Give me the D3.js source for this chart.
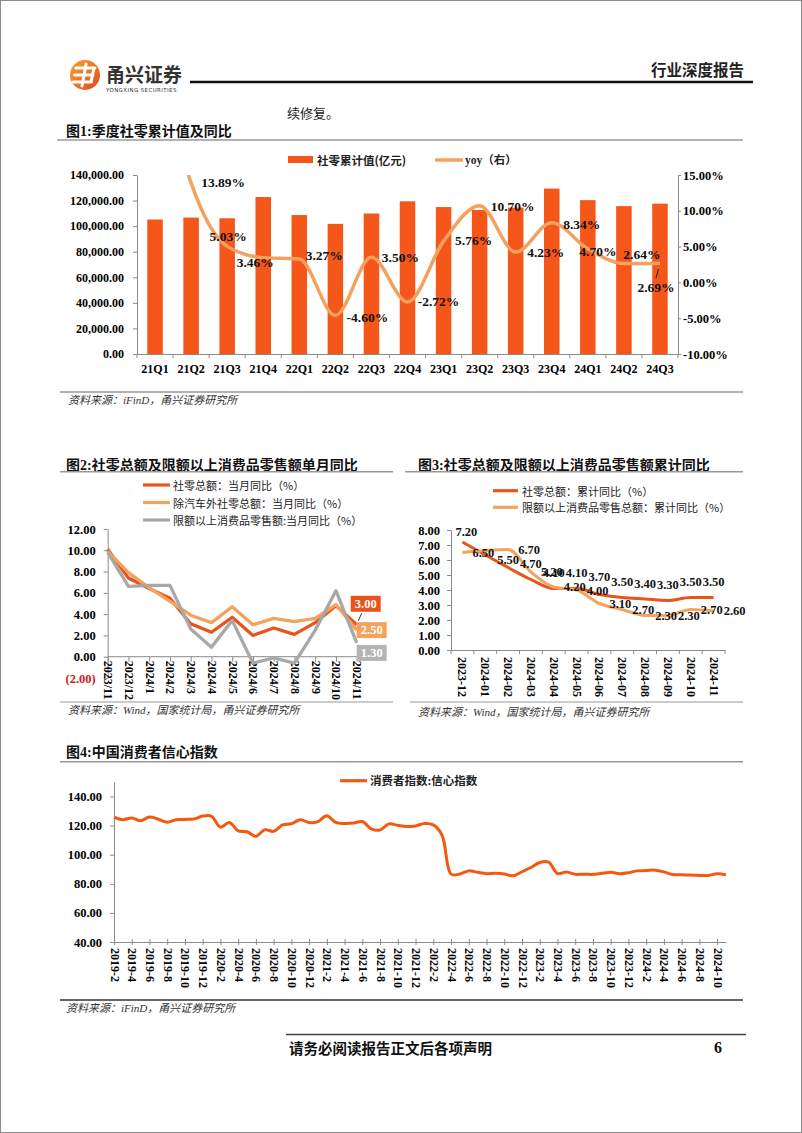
<!DOCTYPE html>
<html><head><meta charset="utf-8">
<script src="https://cdn.jsdelivr.net/npm/d3@7"></script>
<style>body{margin:0;background:#fff} svg{display:block}</style>
</head><body>
<svg id="page" width="802" height="1133"></svg>
<script>
// ---------------- DATA ----------------
// Figure 1
const quarters = ["21Q1","21Q2","21Q3","21Q4","22Q1","22Q2","22Q3","22Q4","23Q1","23Q2","23Q3","23Q4","24Q1","24Q2","24Q3"];
const retailQuarterTotal = [105221,106683,106153,122766,108659,101773,109873,119428,114922,112666,114519,129388,120327,115642,117595];
const retailQuarterYoy = [33.9,13.89,5.03,3.46,3.27,-4.60,3.50,-2.72,5.76,10.70,4.23,8.34,4.70,2.64,2.69];
const leftTicks = [0,20000,40000,60000,80000,100000,120000,140000];
const rightTicks = [-10,-5,0,5,10,15];

// Figure 2
const months2 = ["2023/11","2023/12","2024/1","2024/2","2024/3","2024/4","2024/5","2024/6","2024/7","2024/8","2024/9","2024/10","2024/11"];
const retailMonthYoy = [10.1,7.4,6.4,5.5,3.1,2.3,3.7,2.0,2.7,2.1,3.2,4.8,3.0];
const retailExAutoMonthYoy = [9.9,7.9,6.5,5.2,3.9,3.2,4.7,3.0,3.6,3.3,3.6,4.9,2.5];
const aboveQuotaMonthYoy = [9.8,6.6,6.7,6.7,2.6,0.9,3.4,-0.6,-0.1,-0.6,2.5,6.2,1.3];
const fig2Ticks = [-2,0,2,4,6,8,10,12];

// Figure 3
const months3 = ["2023-12","2024-01","2024-02","2024-03","2024-04","2024-05","2024-06","2024-07","2024-08","2024-09","2024-10","2024-11"];
const retailCumYoy = [7.2,null,5.5,4.7,4.1,4.1,3.7,3.5,3.4,3.3,3.5,3.5];
const aboveQuotaCumYoy = [6.5,null,6.7,5.2,4.2,4.0,3.1,2.7,2.3,2.3,2.7,2.6];
const fig3Ticks = [0,1,2,3,4,5,6,7,8];

// Figure 4
const cciValues = [
  125.9,124.1,125.3,123.4,125.9,124.4,122.4,124.1,124.3,124.6,126.6,
  126.4,118.9,122.2,116.4,115.8,112.6,117.2,116.1,120.5,121.3,124.0,122.1,
  122.8,126.8,122.2,121.5,121.8,122.8,117.8,117.0,121.2,120.2,119.4,119.8,
  121.5,120.5,113.2,86.7,86.8,88.9,87.9,87.0,87.2,86.8,85.5,88.3,
  91.2,94.7,94.9,87.1,88.2,86.5,86.6,86.5,87.2,87.9,87.0,87.6,
  88.9,89.1,89.4,88.2,86.4,86.2,86.0,85.8,85.7,86.9,86.2];
const cciMonths = [];
for (let y = 2019, m = 2; cciMonths.length < cciValues.length; ) { cciMonths.push(y + "-" + m); m++; if (m > 12) { m = 1; y++; } }
const fig4Ticks = [40,60,80,100,120,140];

// ---------------- STYLE ----------------
const SERIF = "'Liberation Serif','Times New Roman','Noto Sans CJK SC',serif";
const CJK = "'Noto Sans CJK SC','Noto Sans',sans-serif";
const MIX = "'Liberation Serif','Noto Sans CJK SC',serif";
const AX = "#8a8a8a";
const BAR = "#F5561A";
const YOY = "#F4A15D";
const DARK = "#E9541C";
const LIGHT = "#F4A35E";
const GRAY = "#A8A8A8";

const svg = d3.select("#page");
svg.append("rect").attr("x",0.5).attr("y",0.5).attr("width",801).attr("height",1132)
  .attr("fill","none").attr("stroke","#8c8c8c");

function txt(x, y, s, o = {}) {
  const t = svg.append("text").attr("x", x).attr("y", y).text(s)
    .attr("font-family", o.family || CJK).attr("font-size", o.size || 12)
    .attr("font-weight", o.weight || "normal").attr("fill", o.fill || "#111")
    .attr("text-anchor", o.anchor || "start").attr("dominant-baseline", "central");
  if (o.italic) t.attr("font-style", "italic");
  return t;
}
function hline(x1, x2, y, color, w) {
  svg.append("line").attr("x1", x1).attr("x2", x2).attr("y1", y).attr("y2", y)
    .attr("stroke", color).attr("stroke-width", w);
}
function styleAxis(g, size) {
  g.select(".domain").attr("stroke", AX);
  g.selectAll(".tick line").attr("stroke", AX);
  g.selectAll(".tick text").attr("font-family", SERIF).attr("font-weight", "bold")
    .attr("font-size", size || 12).attr("fill", "#000");
}

// ---------------- HEADER ----------------
const defs = svg.append("defs");
const lg = defs.append("linearGradient").attr("id","logoGrad").attr("x1","0").attr("y1","0").attr("x2","1").attr("y2","1");
lg.append("stop").attr("offset","0").attr("stop-color","#F7A52E");
lg.append("stop").attr("offset","1").attr("stop-color","#E3461C");
svg.append("circle").attr("cx",85).attr("cy",75).attr("r",15).attr("fill","url(#logoGrad)");
svg.append("path").attr("d","M76 68 L95 68 M74.5 75 L93 75 M73 82 L91.5 82 M86 64 L82 86 M94 68 L91 82")
  .attr("stroke","#fff").attr("stroke-width",3).attr("fill","none").attr("stroke-linecap","round");
txt(106, 73.5, "甬兴证券", {size: 19, weight: "bold", fill: "#333"});
txt(106, 89.5, "YONGXING SECURITIES", {family: "'DejaVu Sans',sans-serif", size: 5.4, fill: "#333"}).attr("letter-spacing", 0.45);
hline(190, 753, 82, "#111", 2.5);
txt(744, 69, "行业深度报告", {size: 15.5, weight: "bold", fill: "#222", anchor: "end"});
txt(287, 112, "续修复。", {size: 13, fill: "#222"});

// ---------------- FIGURE 1 ----------------
txt(66, 131, "图1:季度社零累计值及同比", {family: MIX, size: 14, weight: "bold"});
hline(57, 743, 140, "#999", 1.5);
svg.append("rect").attr("x",288).attr("y",156).attr("width",25).attr("height",7).attr("fill",BAR);
txt(317, 160, "社零累计值(亿元)", {size: 11.5, weight: "bold", fill: "#222"});
hline(435, 463, 160, YOY, 3.5);
txt(465, 160, "yoy（右）", {family: MIX, size: 11.5, weight: "bold", fill: "#222"});

const x1 = d3.scaleBand().domain(quarters).range([137, 678]).paddingInner(0.57).paddingOuter(0.285);
const yL = d3.scaleLinear().domain([0, 140000]).range([354, 175]);
const yR = d3.scaleLinear().domain([-10, 15]).range([354, 175]);

svg.append("g").selectAll("rect").data(quarters).join("rect")
  .attr("x", d => x1(d)).attr("width", x1.bandwidth())
  .attr("y", (d, i) => yL(retailQuarterTotal[i]))
  .attr("height", (d, i) => yL(0) - yL(retailQuarterTotal[i]))
  .attr("fill", BAR);

const gL = svg.append("g").attr("transform","translate(137,0)")
  .call(d3.axisLeft(yL).tickValues(leftTicks).tickFormat(d3.format(",.2f")).tickSize(4).tickSizeOuter(0).tickPadding(9));
styleAxis(gL, 12);
const gR = svg.append("g").attr("transform","translate(678,0)")
  .call(d3.axisRight(yR).tickValues(rightTicks).tickFormat(v => v.toFixed(2) + "%").tickSize(3).tickSizeOuter(0).tickPadding(2));
styleAxis(gR, 12.5);
const gB = svg.append("g").attr("transform","translate(0,354)")
  .call(d3.axisBottom(x1).tickSize(0).tickSizeOuter(0));
styleAxis(gB, 12);
gB.selectAll(".tick text").attr("y", 15).attr("dy", "0.35em");
gB.selectAll(".bnd").data(d3.range(quarters.length + 1)).join("line")
  .attr("x1", i => x1.range()[0] + i * x1.step()).attr("x2", i => x1.range()[0] + i * x1.step())
  .attr("y1", 0).attr("y2", 4).attr("stroke", AX);

defs.append("clipPath").attr("id","clip1").append("rect").attr("x",137).attr("y",175).attr("width",541).attr("height",180);
const cx1 = d => x1(d) + x1.bandwidth() / 2;
svg.append("path").attr("clip-path","url(#clip1)")
  .attr("d", d3.line().x((d, i) => cx1(quarters[i])).y(d => yR(d)).curve(d3.curveMonotoneX)(retailQuarterYoy))
  .attr("fill","none").attr("stroke",YOY).attr("stroke-width",3.5).attr("stroke-linejoin","round");

const yoyLabelOffset = [null,[32,0],[1,-10],[-8,5],[25,-3],[32,2],[29,0],[31,0],[30,-1],[33,1],[30,0],[30,2],[10,3],[18,-9],[-4,24]];
retailQuarterYoy.forEach((v, i) => {
  const off = yoyLabelOffset[i];
  if (!off) return;
  txt(cx1(quarters[i]) + off[0], yR(v) + off[1], v.toFixed(2) + "%", {family: SERIF, size: 13.5, weight: "bold", anchor: "middle", fill: "#111"});
});
{
  const lx = cx1(quarters[14]), ly = yR(retailQuarterYoy[14]);
  svg.append("line").attr("x1", lx - 1.5).attr("y1", ly + 6).attr("x2", lx - 4).attr("y2", ly + 15)
    .attr("stroke", "#222").attr("stroke-width", 1);
}
hline(60, 743, 392, "#999", 1.5);
txt(68, 400, "资料来源：iFinD，甬兴证券研究所", {family: MIX, size: 11, italic: true, fill: "#333"});

// ---------------- FIGURE 2 ----------------
txt(66, 465, "图2:社零总额及限额以上消费品零售额单月同比", {family: MIX, size: 14, weight: "bold"});
hline(60, 393, 471.7, "#999", 1.5);
const leg2 = [["社零总额：当月同比（%）", DARK], ["除汽车外社零总额：当月同比（%）", LIGHT], ["限额以上消费品零售额:当月同比（%）", GRAY]];
leg2.forEach((l, i) => {
  const y = 485 + i * 17.5;
  hline(143, 170, y, l[1], 3.2);
  txt(173, y, l[0], {size: 11, fill: "#222"});
});
const x2 = d3.scalePoint().domain(months2).range([107.7, 356.7]);
const y2 = d3.scaleLinear().domain([-2, 12]).range([678, 529]);
const g2L = svg.append("g").attr("transform","translate(107.7,0)")
  .call(d3.axisLeft(y2).tickValues(fig2Ticks).tickFormat(v => v < 0 ? "(" + Math.abs(v).toFixed(2) + ")" : v.toFixed(2)).tickSize(4).tickSizeOuter(0).tickPadding(8));
styleAxis(g2L, 12.5);
g2L.selectAll(".tick text").attr("fill", d => d < 0 ? "#D01818" : "#000");
const g2B = svg.append("g").attr("transform", `translate(0,${y2(0)})`)
  .call(d3.axisBottom(x2).tickSize(5).tickSizeOuter(0));
styleAxis(g2B, 12);
g2B.select(".domain").attr("d", `M${x2.range()[0]},0H${x2.range()[1]}`);
g2B.selectAll(".tick text").attr("y", 0).attr("dy", 0).attr("text-anchor", "start")
  .attr("dominant-baseline", "central").attr("transform", "translate(0,4) rotate(90)");
const line2 = d3.line().x((d, i) => x2(months2[i])).y(d => y2(d));
[[retailMonthYoy, DARK], [retailExAutoMonthYoy, LIGHT], [aboveQuotaMonthYoy, GRAY]].forEach(s => {
  svg.append("path").attr("d", line2(s[0])).attr("fill","none").attr("stroke", s[1])
    .attr("stroke-width", 3.3).attr("stroke-linejoin","round");
});
const endBoxes = [[retailMonthYoy, DARK, 9, -21], [retailExAutoMonthYoy, LIGHT, 15, 0], [aboveQuotaMonthYoy, "#B4B4B4", 15, 10]];
const lastM = months2[months2.length - 1];
endBoxes.forEach(b => {
  const v = b[0][b[0].length - 1];
  const cx = x2(lastM) + b[2], cy = y2(v) + b[3];
  svg.append("rect").attr("x", cx - 15).attr("y", cy - 8).attr("width", 30).attr("height", 16).attr("fill", b[1]);
  txt(cx, cy, v.toFixed(2), {family: SERIF, size: 12.5, weight: "bold", fill: "#fff", anchor: "middle"});
});
{
  const px = x2(lastM), py = y2(retailMonthYoy[retailMonthYoy.length - 1]);
  svg.append("line").attr("x1", px + 5).attr("y1", py - 11.5).attr("x2", px + 1.6).attr("y2", py - 4)
    .attr("stroke", "#333").attr("stroke-width", 1);
}
hline(60, 393, 702, "#999", 1.2);
txt(68, 710, "资料来源：Wind，国家统计局，甬兴证券研究所", {family: MIX, size: 11, italic: true, fill: "#333"});

// ---------------- FIGURE 3 ----------------
txt(418, 465, "图3:社零总额及限额以上消费品零售额累计同比", {family: MIX, size: 14, weight: "bold"});
hline(405, 743, 471.7, "#999", 1.5);
const leg3 = [["社零总额：累计同比（%）", DARK], ["限额以上消费品零售总额：累计同比（%）", LIGHT]];
leg3.forEach((l, i) => {
  const y = 490.7 + i * 16.6;
  hline(493, 518, y, l[1], 3.2);
  txt(522, y, l[0], {size: 11, fill: "#222"});
});
const x3 = d3.scaleBand().domain(months3).range([451, 725]).padding(0);
const y3 = d3.scaleLinear().domain([0, 8]).range([650, 530]);
const g3L = svg.append("g").attr("transform","translate(451,0)")
  .call(d3.axisLeft(y3).tickValues(fig3Ticks).tickFormat(d3.format(".2f")).tickSize(4).tickSizeOuter(0).tickPadding(7));
styleAxis(g3L, 12.5);
const g3B = svg.append("g").attr("transform","translate(0,650)")
  .call(d3.axisBottom(x3).tickSize(0).tickSizeOuter(0));
styleAxis(g3B, 12);
g3B.selectAll(".tick text").attr("y", 0).attr("dy", 0).attr("text-anchor", "start")
  .attr("dominant-baseline", "central").attr("transform", "translate(0,7) rotate(90)");
g3B.selectAll(".bnd").data(d3.range(months3.length + 1)).join("line")
  .attr("x1", i => x3.range()[0] + i * x3.step()).attr("x2", i => x3.range()[0] + i * x3.step())
  .attr("y1", 0).attr("y2", 4).attr("stroke", AX);
const cx3 = d => x3(d) + x3.bandwidth() / 2;
function pts3(arr) { return arr.map((v, i) => [cx3(months3[i]), v]).filter(p => p[1] != null); }
const line3 = d3.line().x(p => p[0]).y(p => y3(p[1])).curve(d3.curveMonotoneX);
svg.append("path").attr("d", line3(pts3(retailCumYoy))).attr("fill","none").attr("stroke",DARK).attr("stroke-width",3).attr("stroke-linejoin","round");
svg.append("path").attr("d", line3(pts3(aboveQuotaCumYoy))).attr("fill","none").attr("stroke",LIGHT).attr("stroke-width",3).attr("stroke-linejoin","round");
const darkLabelDy = [-10, null, -7.5, -15.5, -15.8, -15.8, -17.5, -15.5, -15.5, -15.5, -15.5, -15.5];
retailCumYoy.forEach((v, i) => {
  if (v == null) return;
  txt(cx3(months3[i]) + (i === 0 ? 4 : 0), y3(v) + darkLabelDy[i], v.toFixed(2), {family: SERIF, size: 12.5, weight: "bold", anchor: "middle"});
});
const lightLabelDy = [0, null, 0, 0, 0, 0.5, 0, 0, 0, 0, 0, 0];
aboveQuotaCumYoy.forEach((v, i) => {
  if (v == null) return;
  txt(cx3(months3[i]) + 21, y3(v) + lightLabelDy[i], v.toFixed(2), {family: SERIF, size: 12.5, weight: "bold", anchor: "middle"});
});
hline(410, 743, 702, "#999", 1.2);
txt(418, 711.5, "资料来源：Wind，国家统计局，甬兴证券研究所", {family: MIX, size: 11, italic: true, fill: "#333"});

// ---------------- FIGURE 4 ----------------
txt(66, 752.7, "图4:中国消费者信心指数", {family: MIX, size: 14, weight: "bold"});
hline(60, 743, 761.7, "#999", 1.5);
hline(340, 367, 780.7, "#F5580F", 3.2);
txt(370, 780.7, "消费者指数:信心指数", {family: MIX, size: 11.5, weight: "bold", fill: "#222"});
const x4 = d3.scalePoint().domain(cciMonths).range([114, 726]);
const y4 = d3.scaleLinear().domain([40, 150]).range([942, 782]);
const g4L = svg.append("g").attr("transform","translate(114,0)")
  .call(d3.axisLeft(y4).tickValues(fig4Ticks).tickFormat(d3.format(".2f")).tickSize(4).tickSizeOuter(0).tickPadding(8));
styleAxis(g4L, 12.5);
const labelMonths = cciMonths.filter((d, i) => i % 2 === 0);
const g4B = svg.append("g").attr("transform","translate(0,942)")
  .call(d3.axisBottom(x4).tickValues(labelMonths).tickSize(3).tickSizeOuter(0));
styleAxis(g4B, 12);
g4B.selectAll(".tick line").attr("y1", -3);
g4B.selectAll(".tick text").attr("y", 0).attr("dy", 0).attr("text-anchor", "start")
  .attr("dominant-baseline", "central").attr("transform", "translate(0,6) rotate(90)");
svg.append("path").attr("d", d3.line().x((d, i) => x4(cciMonths[i])).y(d => y4(d)).curve(d3.curveCatmullRom.alpha(0.5))(cciValues))
  .attr("fill","none").attr("stroke","#F5580F").attr("stroke-width",3).attr("stroke-linejoin","round");
hline(60, 743, 1000, "#333", 1.5);
txt(66, 1008, "资料来源：iFinD，甬兴证券研究所", {family: MIX, size: 11, italic: true, fill: "#333"});

// ---------------- FOOTER ----------------
hline(286, 746, 1034.5, "#444", 1.5);
txt(289, 1047, "请务必阅读报告正文后各项声明", {size: 14.5, weight: "bold", fill: "#111"});
txt(718, 1047, "6", {family: SERIF, size: 16, weight: "bold", anchor: "middle"});
</script>
</body></html>
